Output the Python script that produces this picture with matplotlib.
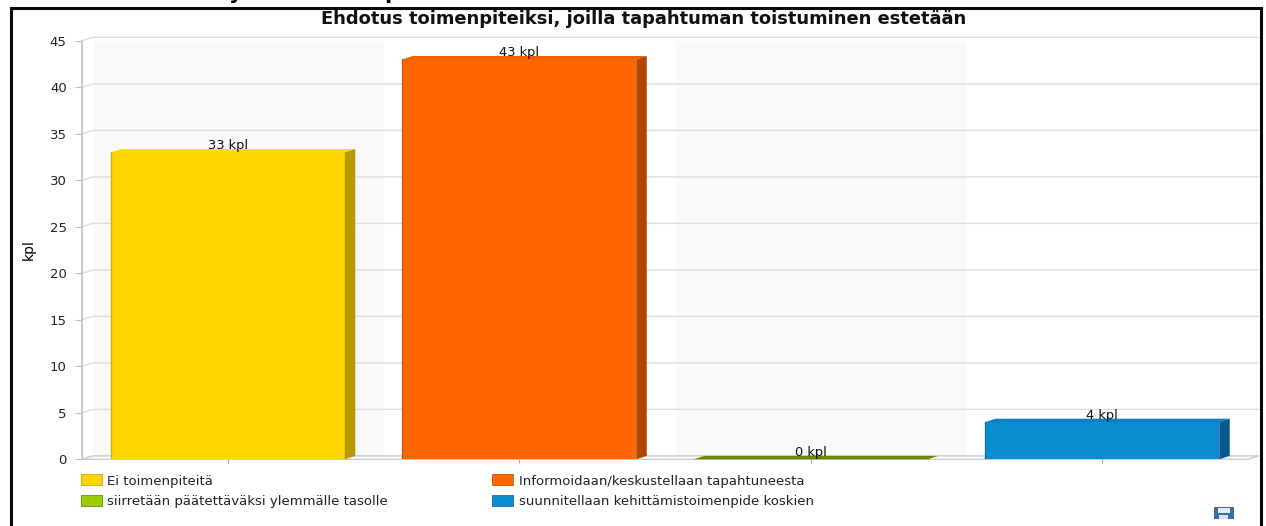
import matplotlib
matplotlib.use("Agg")
import matplotlib.pyplot as plt
from matplotlib.patches import Polygon, Rectangle
from matplotlib.lines import Line2D

categories = ["Ei toimenpiteitä", "Informoidaan/keskustellaan tapahtuneesta",
              "siirretään päätettäväksi ylemmälle tasolle", "suunnitellaan kehittämistoimenpide koskien"]
values = [33, 43, 0, 4]
labels = ["33 kpl", "43 kpl", "0 kpl", "4 kpl"]
front = ["#FFD500", "#FF6600", "#99CC00", "#0A8CD0"]
top = ["#F2E000", "#F06000", "#648A00", "#0A80C4"]
side = ["#B89A00", "#B04600", "#5A7A00", "#065A90"]
yticks = list(range(0, 50, 5))
title = "Ehdotus toimenpiteiksi, joilla tapahtuman toistuminen estetään"

W, H = 1266, 526
plt.rcParams['font.family'] = ['DejaVu Sans']
fig = plt.figure(figsize=(W/100, H/100), dpi=100, facecolor="white")
L, R, T, B = 82, 1248, 40.8, 459.3
ax = fig.add_axes([L/W, 1-B/H, (R-L)/W, (B-T)/H])
ax.set_xlim(-0.5, 3.5); ax.set_ylim(0, 45)
ax.patch.set_visible(False)
for s in ax.spines.values():
    s.set_visible(False)
dx = 10.5/((R-L)/4); dy = 3.4/((B-T)/45)

# back wall bands and gridlines
for i in range(4):
    if i % 2 == 0:
        ax.add_patch(Rectangle((i-0.5+dx, dy), 1, 45, fc="#F9F9F9", ec="none", zorder=0))
for y in yticks[1:]:
    ax.plot([-0.5, -0.5+dx, 3.5+dx], [y, y+dy, y+dy], color="#DEDEDE", lw=1, zorder=1, clip_on=False)
# floor & left wall
ax.plot([-0.5, -0.5], [0, 45], color="#C0C0C0", lw=1.2, zorder=2, clip_on=False)
ax.plot([-0.5, 3.5, 3.5+dx, -0.5+dx, -0.5], [0, 0, dy, dy, 0], color="#CCCCCC", lw=1, zorder=1, clip_on=False)
ax.set_yticks(yticks)
ax.set_xticks(range(4)); ax.set_xticklabels([])
ax.tick_params(axis="y", length=5, color="#C0C0C0", labelsize=9.5, labelcolor="#222222", pad=6)
ax.tick_params(axis="x", length=3, color="#AAAAAA", pad=2)

bw = 234/((R-L)/4)
bars = ax.bar(range(4), values, width=bw, color=front, zorder=3, edgecolor="none")
ax.set_xlim(-0.5, 3.5)
for i, (v, r) in enumerate(zip(values, bars)):
    x0 = r.get_x(); x1 = x0 + r.get_width()
    ax.add_patch(Polygon([(x0, v), (x0+dx, v+dy), (x1+dx, v+dy), (x1, v)], fc=top[i], ec="none", zorder=3, clip_on=False))
    ax.add_patch(Polygon([(x1, 0), (x1+dx, dy), (x1+dx, v+dy), (x1, v)], fc=side[i], ec="none", zorder=3, clip_on=False))
    ax.plot([x0, x0], [0, v], color=side[i], lw=1, alpha=.6, zorder=4)
    ax.annotate(labels[i], (i, v+dy), xytext=(0, 0), textcoords="offset points",
                ha="center", va="baseline", fontsize=9.4, color="#111111", zorder=5, annotation_clip=False)

fig.text(644/W, 1-19.5/H, title, ha="center", va="center", fontsize=12.9, fontweight="bold", color="#111111")
fig.text(29/W, 1-250/H, "kpl", rotation=90, ha="center", va="center", fontsize=10,
         fontfamily="Liberation Sans Narrow", color="black")

# legend
handles = [Rectangle((0, 0), 1, 1, fc=c, ec=side[i], lw=.5) for i, c in enumerate(front)]
leg = fig.legend([handles[0], handles[2], handles[1], handles[3]],
                 [categories[0], categories[2], categories[1], categories[3]],
                 ncol=2, loc="upper left", bbox_to_anchor=(81/W, 1-474.5/H), frameon=False, fontsize=9.5,
                 handlelength=1.6, handleheight=0.9, columnspacing=7.9, labelspacing=0.6,
                 handletextpad=0.4, borderpad=0, borderaxespad=0, labelcolor="#222222")

# outer frame
for xs, ys in [((10.5, 10.5), (526, 8)), ((10.5, 1261), (8, 8)), ((1261, 1261), (8, 526))]:
    fig.add_artist(Line2D([x/W for x in xs], [1-y/H for y in ys], color="#0A0A0A", lw=2.2))
# descenders of the heading cut off above the frame
fig.text(236/W, 1+1/H, "y", ha="center", va="baseline", fontsize=15, fontweight="bold", color="black")
fig.text(392/W, 1+1/H, "p", ha="center", va="baseline", fontsize=15, fontweight="bold", color="black")
# save icon
fig.add_artist(Rectangle((1214/W, 1-519/H), 20/W, 12/H, fc="#3B6EA5", ec="none", transform=fig.transFigure))
fig.add_artist(Rectangle((1218/W, 1-512.5/H), 12/W, 5/H, fc="#E8EEF4", ec="none", transform=fig.transFigure))
fig.add_artist(Rectangle((1219/W, 1-518.5/H), 9/W, 4/H, fc="#DDE4EC", ec="none", transform=fig.transFigure))
fig.savefig("out.png", dpi=100)
